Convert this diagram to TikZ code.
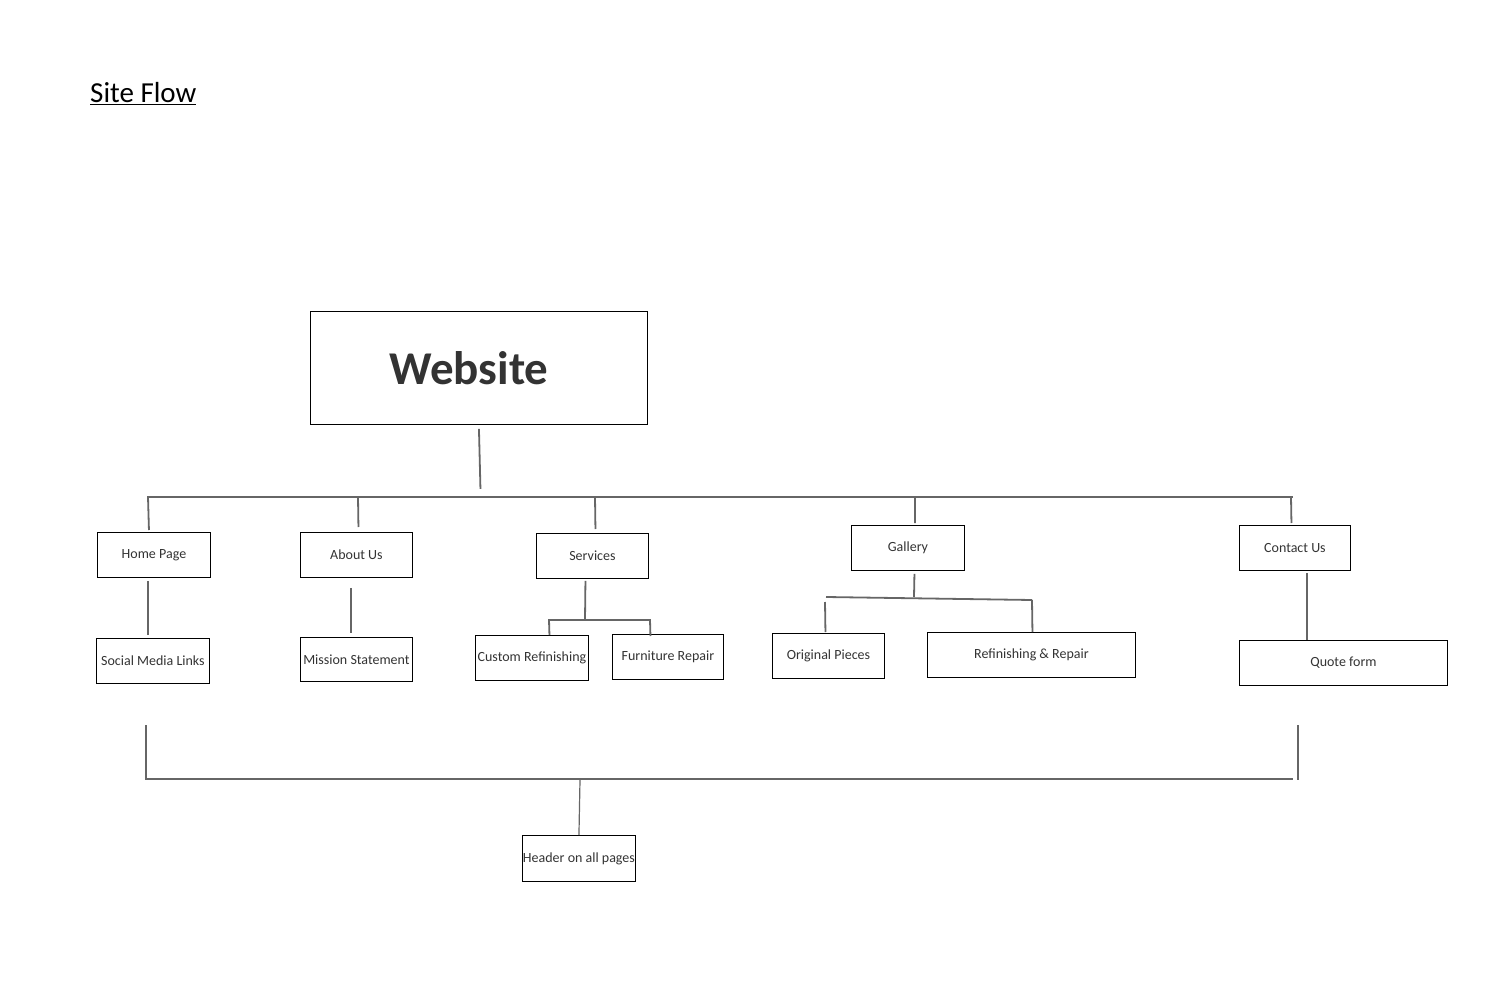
\documentclass[tikz,border=0pt]{standalone}
\usepackage{fontspec}
\setmainfont{Carlito}
\usepackage{tikz}
\usetikzlibrary{positioning,calc}
\definecolor{textgray}{HTML}{333333}
\definecolor{linegray}{HTML}{666666}
\tikzstyle{site_node}=[rectangle, draw=black, line width=0.9pt, minimum height=45pt, minimum width=113pt, inner sep=1pt, anchor=north west, text=textgray, font=\fontsize{14}{16}\selectfont]
\tikzstyle{site_node_wide}=[site_node, minimum width=208pt]
\tikzstyle{site_line}=[draw=linegray, line width=1.8pt]
\begin{document}
\begin{tikzpicture}[x=1pt,y=-1pt]
            \useasboundingbox (0,0) rectangle (1491,1003);

            % Title
            \node[anchor=west,inner sep=0pt,font=\fontsize{29}{32}\selectfont] (title) at (90,94) {\underline{Site Flow}};

            % Website
            \node[site_node,minimum width=337pt,minimum height=113pt,font=\fontsize{47}{50}\selectfont\bfseries] (website) at (310,311) {Website\kern20pt};

            % Pages
            \node[site_node] (home) at (97,532) {Home Page};
            \node[site_node,minimum width=112pt] (about) at (300,532) {About Us};
            \node[site_node,minimum width=112pt] (services) at (536,533) {Services};
            \node[site_node] (gallery) at (851,525) {Gallery};
            \node[site_node,minimum width=111pt] (contact) at (1239,525) {Contact Us};

            % Sub pages
            \node[site_node] (social) at (96,638) {Social Media Links};
            \node[site_node,minimum width=112pt,minimum height=44pt] (mission) at (300,637) {Mission Statement};
            \node[site_node] (custom) at (475,635) {Custom Refinishing};
            \node[site_node,minimum width=111pt] (furniture) at (612,634) {Furniture Repair};
            \node[site_node,minimum width=112pt] (original) at (772,633) {Original Pieces};
            \node[site_node_wide] (refinishing) at (927,632) {Refinishing \& Repair};
            \node[site_node_wide] (quote) at (1239,640) {Quote form};

            % Header
            \node[site_node,minimum height=46pt,inner sep=0pt] (header) at (522,835) {Header on all pages};

            % Main bus
            \coordinate (bus_left) at (147,497);
            \coordinate (bus_right) at (1293,497);
            \draw[site_line] ($(website.south)+(0,4)$) -- ($(website.south)+(1.5,64)$);
            \draw[site_line] (bus_left) -- (bus_right);
            \draw[site_line] (148,497) -- ($(home.north)+(-5,-2)$);
            \draw[site_line] (358,497) -- ($(about.north)+(2,-5)$);
            \draw[site_line] (595,497) -- ($(services.north)+(3,-4)$);
            \draw[site_line] (915,497) -- ($(gallery.north)+(7,-2)$);
            \draw[site_line] (1291,497) -- ($(contact.north)+(-3.5,-2)$);

            % Home Page and About Us
            \draw[site_line] ($(home.south)+(-6,3)$) -- ($(social.north)+(-5,-3)$);
            \draw[site_line] ($(about.south)+(-5.5,10)$) -- ($(mission.north)+(-5.5,-4)$);

            % Services
            \coordinate (services_split) at (585,620);
            \draw[site_line] ($(services.south)+(-7,2)$) -- (services_split);
            \draw[site_line] ($(custom.north)+(17.5,0)$) -- (549,620) -- (650,620) -- ($(furniture.north)+(-17.5,2)$);

            % Gallery
            \coordinate (gallery_split) at (914,597);
            \draw[site_line] ($(gallery.south)+(6.5,3)$) -- (gallery_split);
            \draw[site_line] (826,597) -- (1032,600);
            \draw[site_line] (825,602) -- ($(original.north)+(-3,-1)$);
            \draw[site_line] (1032,600) -- ($(refinishing.north)+(1,0)$);

            % Contact Us
            \draw[site_line] ($(contact.south)+(12,2)$) -- ($(quote.north)+(-36.5,0)$);

            % Header bus
            \coordinate (footer_left) at (147,779);
            \coordinate (footer_right) at (1293,779);
            \draw[site_line,line width=1.2pt] (146,725) -- (146,780);
            \draw[site_line,line width=1.2pt] (1298,725) -- (1298,780);
            \draw[site_line] (footer_left) -- (footer_right);
            \draw[site_line,line width=1.2pt] (580,780) -- (header.north);

\end{tikzpicture}
\end{document}
